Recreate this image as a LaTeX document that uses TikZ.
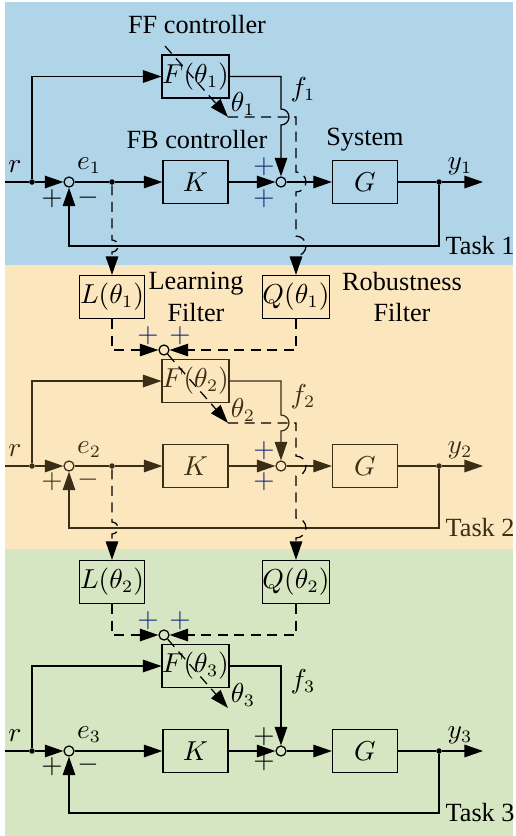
\documentclass[tikz,border=0pt]{standalone}
\usepackage{fontspec}
\setmainfont{Liberation Serif}
\usetikzlibrary{arrows.meta,positioning}
\definecolor{bgblue}{RGB}{176,212,232}
\definecolor{bgtan}{RGB}{252,230,190}
\definecolor{bggreen}{RGB}{214,229,194}
\definecolor{plusblue}{RGB}{22,40,125}
\definecolor{inkbrown}{RGB}{58,46,22}

\begin{document}
\begin{tikzpicture}[
  x=0.4pt, y=-0.4pt, line width=0.5pt,
  font=\fontsize{10.5}{12.6}\selectfont,
  block/.style={draw, minimum width=26pt, minimum height=17.2pt, inner sep=0pt},
  sumc/.style={draw, circle, minimum size=4pt, inner sep=0pt},
  dot/.style={circle, fill, minimum size=2.2pt, inner sep=0pt},
  lbl/.style={inner sep=0pt, align=center},
  sgn/.style={inner sep=0pt, text=plusblue},
  arr/.style={-{Triangle[length=7.4pt, width=5pt]}},
  dsh/.style={dash pattern=on 4pt off 2.6pt}
]
% backgrounds
\useasboundingbox (0,0) rectangle (515,836);
\fill[bgblue] (5,2) rectangle (513,265);
\fill[bgtan] (5,265) rectangle (513,549);
\fill[bggreen] (5,549) rectangle (513,836);

% Task 1
\node[lbl] at (197,25) {FF controller};
\node[block] (ff1) at (195.5,76.5) {$F(\theta_1)$};
\node[lbl] at (197,140) {FB controller};
\node[lbl] at (365,140) {System};
\node[sumc] (sume1) at (69,182) {};
\node[block] (fb1) at (195.5,182) {$K$};
\node[sumc] (sumu1) at (281,182) {};
\node[block] (sys1) at (365,182) {$G$};
\node[dot] (rdot1) at (32,182) {};
\node[dot] (edot1) at (112,182) {};
\node[dot] (ydot1) at (439,182) {};
\coordinate (rin1) at (5,182);
\coordinate (yend1) at (483,182);
\coordinate (thin1) at (165,46);
\coordinate (thout1) at (228,117);
\node[lbl] at (15,167) {$r$};
\node[lbl] at (89,166) {$e_1$};
\node[lbl] at (460,166) {$y_1$};
\node[lbl] at (303,90) {$f_1$};
\node[lbl] at (243,104) {$\theta_1$};
\node[lbl, anchor=west] at (445,246) {Task 1};
\node[lbl] at (52,199) {$+$};
\node[lbl] at (88,198) {$-$};
\node[sgn] at (264,167) {$+$};
\node[sgn] at (264,199) {$+$};
\draw (rin1) -- (rdot1);
\draw[arr] (rdot1) -- (sume1);
\draw[arr] (rdot1) |- (ff1);
\draw (sume1) -- (edot1);
\draw[arr] (edot1) -- (fb1);
\draw[arr] (fb1) -- (sumu1);
\draw[arr] (sumu1) -- (sys1);
\draw (sys1) -- (ydot1);
\draw[arr] (ydot1) -- (yend1);
\draw[arr] (ydot1) -- ++(0,64) -| (sume1);
\draw[arr] (ff1) -| (281,109) arc[start angle=-90, end angle=90, radius=8] -- (sumu1);
\draw[dsh, arr] (thin1) -- (thout1);

% Task 2
\node[block] (lf1) at (112,297) {$L(\theta_1)$};
\node[block] (qf1) at (296,297) {$Q(\theta_1)$};
\node[lbl] at (196,297) {Learning\\Filter};
\node[lbl] at (402,297) {Robustness\\Filter};
\draw[dsh, arr] (thout1) -- (296,117) -- (296,172) arc[start angle=-90, end angle=90, radius=10]
  -- (296,236) arc[start angle=-90, end angle=90, radius=10] -- (qf1);
\draw[dsh, arr] (edot1) -- (112,240) arc[start angle=-90, end angle=90, radius=6] -- (lf1);
\node[sumc] (sumth2) at (164,350) {};
\node[sgn] at (148,336) {$+$};
\node[sgn] at (180,336) {$+$};
\draw[dsh, arr] (lf1) |- (sumth2);
\draw[dsh, arr] (qf1) |- (sumth2);
\begin{scope}[color=inkbrown]
\node[block] (ff2) at (195.5,381) {$F(\theta_2)$};
\node[sumc] (sume2) at (69,466) {};
\node[block] (fb2) at (195.5,466) {$K$};
\node[sumc] (sumu2) at (281,466) {};
\node[block] (sys2) at (365,466) {$G$};
\node[dot] (rdot2) at (32,466) {};
\node[dot] (edot2) at (112,466) {};
\node[dot] (ydot2) at (439,466) {};
\coordinate (rin2) at (5,466);
\coordinate (yend2) at (483,466);
\coordinate (thout2) at (228,423);
\node[lbl] at (15,451) {$r$};
\node[lbl] at (89,450) {$e_2$};
\node[lbl] at (460,450) {$y_2$};
\node[lbl] at (303,397) {$f_2$};
\node[lbl] at (243,410) {$\theta_2$};
\node[lbl, anchor=west] at (445,528) {Task 2};
\node[lbl] at (52,482) {$+$};
\node[lbl] at (88,480) {$-$};
\node[sgn] at (264,451) {$+$};
\node[sgn] at (264,482) {$+$};
\draw (rin2) -- (rdot2);
\draw[arr] (rdot2) -- (sume2);
\draw[arr] (rdot2) |- (ff2);
\draw (sume2) -- (edot2);
\draw[arr] (edot2) -- (fb2);
\draw[arr] (fb2) -- (sumu2);
\draw[arr] (sumu2) -- (sys2);
\draw (sys2) -- (ydot2);
\draw[arr] (ydot2) -- (yend2);
\draw[arr] (ydot2) -- ++(0,62) -| (sume2);
\draw[arr] (ff2) -| (281,415) arc[start angle=-90, end angle=90, radius=8] -- (sumu2);
\end{scope}
\draw[dsh, arr] (sumth2) -- (thout2);

% Task 3
\node[block] (lf2) at (112,582) {$L(\theta_2)$};
\node[block] (qf2) at (296,582) {$Q(\theta_2)$};
\draw[dsh, arr] (thout2) -- (296,423) -- (296,456) arc[start angle=-90, end angle=90, radius=10]
  -- (296,518) arc[start angle=-90, end angle=90, radius=10] -- (qf2);
\draw[dsh, arr] (edot2) -- (112,522) arc[start angle=-90, end angle=90, radius=6] -- (lf2);
\node[sumc] (sumth3) at (164,635) {};
\node[sgn] at (148,621) {$+$};
\node[sgn] at (180,621) {$+$};
\draw[dsh, arr] (lf2) |- (sumth3);
\draw[dsh, arr] (qf2) |- (sumth3);
\node[block] (ff3) at (195.5,666) {$F(\theta_3)$};
\node[sumc] (sume3) at (69,751) {};
\node[block] (fb3) at (195.5,751) {$K$};
\node[sumc] (sumu3) at (281,751) {};
\node[block] (sys3) at (365,751) {$G$};
\node[dot] (rdot3) at (32,751) {};
\node[dot] (ydot3) at (439,751) {};
\coordinate (rin3) at (5,751);
\coordinate (yend3) at (483,751);
\coordinate (thout3) at (228,708);
\node[lbl] at (15,736) {$r$};
\node[lbl] at (89,735) {$e_3$};
\node[lbl] at (460,735) {$y_3$};
\node[lbl] at (303,682) {$f_3$};
\node[lbl] at (243,695) {$\theta_3$};
\node[lbl, anchor=west] at (445,813) {Task 3};
\node[lbl] at (52,767) {$+$};
\node[lbl] at (88,765) {$-$};
\node[lbl] at (264,737) {$+$};
\node[lbl] at (264,762) {$+$};
\draw (rin3) -- (rdot3);
\draw[arr] (rdot3) -- (sume3);
\draw[arr] (rdot3) |- (ff3);
\draw[arr] (sume3) -- (fb3);
\draw[arr] (fb3) -- (sumu3);
\draw[arr] (sumu3) -- (sys3);
\draw (sys3) -- (ydot3);
\draw[arr] (ydot3) -- (yend3);
\draw[arr] (ydot3) -- ++(0,62) -| (sume3);
\draw[arr] (ff3) -| (sumu3);
\draw[dsh, arr] (sumth3) -- (thout3);
\end{tikzpicture}
\end{document}
